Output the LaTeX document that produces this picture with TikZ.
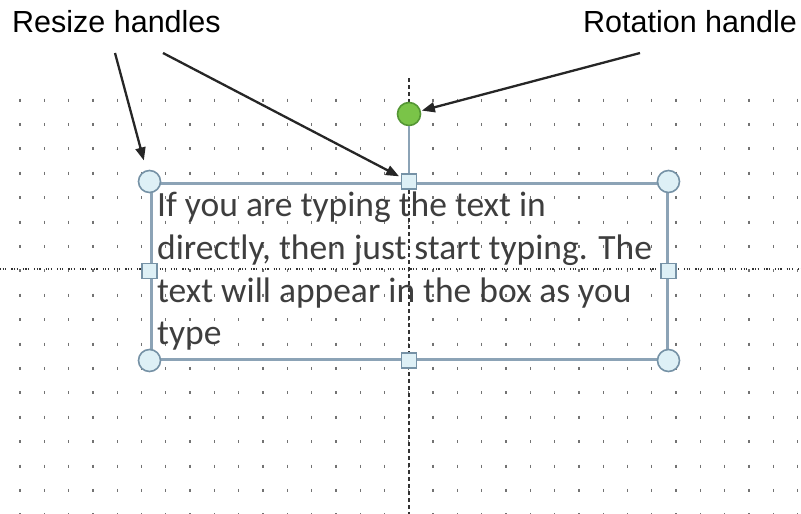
\documentclass[tikz,border=0pt]{standalone}
\usepackage{fontspec}
\setmainfont{Liberation Sans}
\newfontfamily\boxfont{Carlito}
\usetikzlibrary{arrows.meta}
\definecolor{handlefill}{RGB}{222,240,246}
\definecolor{handleedge}{RGB}{118,146,166}
\definecolor{frameblue}{RGB}{140,163,182}
\definecolor{rotgreen}{RGB}{122,196,72}
\definecolor{rotedge}{RGB}{84,150,52}
\definecolor{gridgray}{RGB}{115,115,115}
\definecolor{textgray}{RGB}{62,62,62}

\begin{document}
\begin{tikzpicture}[x=1pt,y=-1pt,
        callout/.style={font=\fontsize{30.5}{36}\selectfont,inner sep=0pt},
        frame/.style={rectangle,draw=frameblue,line width=3pt,
          minimum width=516pt,minimum height=176pt,inner sep=0pt},
        corner/.style={circle,draw=handleedge,fill=handlefill,line width=1.6pt,
          minimum size=22pt,inner sep=0pt},
        side/.style={rectangle,draw=handleedge,fill=handlefill,line width=1.3pt,
          minimum size=15pt,inner sep=0pt},
        knob/.style={circle,draw=rotedge,fill=rotgreen,line width=1.6pt,
          minimum size=23pt,inner sep=0pt},
        guide/.style={black!80,line width=1.2pt},
        arrow/.style={-{Triangle[length=13pt,width=10pt]},line width=2.3pt,black!85}]
        \useasboundingbox (0,0) rectangle (801,514);
        \foreach \i in {0,...,32}
          \foreach \j in {0,...,17}
            \draw[gridgray,line width=1.3pt] (20+24.3*\i,98.5+24.4*\j) -- ++(0,3);
        \draw[guide,dash pattern=on 4pt off 3pt] (409,78) -- (409,514);
        \draw[guide,dash pattern=on 1.2pt off 1.4pt on 1.2pt off 1.4pt on 1.2pt off 5pt] (0,269) -- (801,269);
        \node[frame] (box) at (409,271) {};
        \node[knob] (rot) at (409,114) {};
        \node[side] (tm) at (box.north) {};
        \draw[frameblue,line width=2.2pt] (rot) -- (tm);
        \node[side] (bm) at (box.south) {};
        \node[side] (lm) at (box.west) {};
        \node[side] (rm) at (box.east) {};
        \node[corner] (tl) at (box.north west) {};
        \node[corner] (tr) at (box.north east) {};
        \node[corner] (bl) at (box.south west) {};
        \node[corner] (br) at (box.south east) {};
        \node[font=\boxfont\fontsize{35.5}{42.7}\selectfont,text=textgray,align=left,
          anchor=north west,inner sep=0pt] (txt) at (157,192)
          {If you are typing the text in\\directly, then just start typing. The\\text will appear in the box as you\\type};
        \node[callout,anchor=base west] (resize) at (12,32) {Resize handles};
        \node[callout,anchor=base east] (rotate) at (797,32) {Rotation handle};
        \coordinate (rs1) at (115,53);
        \coordinate (rs2) at (163,53);
        \coordinate (rt) at (640,53);
        \draw[arrow,shorten >=10pt] (rs1) -- (tl);
        \draw[arrow,shorten >=2pt] (rs2) -- (tm);
        \draw[arrow,shorten >=1pt] (rt) -- (rot);
      \end{tikzpicture}
\end{document}
